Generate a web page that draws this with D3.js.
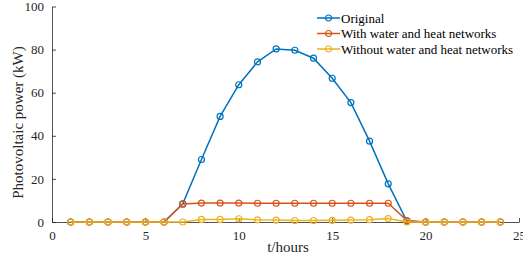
<!DOCTYPE html>
<html>
<head>
<meta charset="utf-8">
<script src="https://cdn.jsdelivr.net/npm/d3@7"></script>
<style>
  body { margin: 0; background: #fff; }
  svg { display: block; }
</style>
</head>
<body>
<svg id="chart" width="523" height="261"></svg>
<script>
const hours = d3.range(1, 25);
const original = [0, 0, 0, 0, 0, 0, 8.4, 29, 49, 63.7, 74.3, 80.3, 79.7, 76, 66.7, 55.4, 37.5, 17.7, 0.3, 0, 0, 0, 0, 0];
const withNet = [0, 0, 0, 0, 0, 0, 8.4, 8.8, 8.8, 8.8, 8.7, 8.7, 8.7, 8.7, 8.7, 8.7, 8.7, 8.7, 0.7, 0, 0, 0, 0, 0];
const withoutNet = [0, 0, 0, 0, 0, 0, 0, 1.2, 1.2, 1.5, 1.0, 0.9, 0.7, 0.7, 0.8, 0.9, 1.1, 1.6, 0, 0, 0, 0, 0, 0];
const xTicks = [0, 5, 10, 15, 20, 25];
const yTicks = [0, 20, 40, 60, 80, 100];

const series = [
  { name: 'Original', values: original, color: '#0072BD' },
  { name: 'With water and heat networks', values: withNet, color: '#D95319' },
  { name: 'Without water and heat networks', values: withoutNet, color: '#EDB120' }
];

const serif = "'Liberation Serif', 'Times New Roman', serif";
const margin = { left: 52, right: 4, top: 6.5, bottom: 39 };
const width = 523, height = 261;
const svg = d3.select('#chart');

const x = d3.scaleLinear().domain([0, 25]).range([margin.left, width - margin.right]);
const y = d3.scaleLinear().domain([0, 100]).range([height - margin.bottom, margin.top]);

// axes (ticks pointing inward, MATLAB style)
const xAxis = svg.append('g')
  .attr('transform', `translate(0,${y(0)})`)
  .call(d3.axisBottom(x).tickValues(xTicks).tickSizeInner(-4).tickSizeOuter(0).tickPadding(9));
const yAxis = svg.append('g')
  .attr('transform', `translate(${x(0)},0)`)
  .call(d3.axisLeft(y).tickValues(yTicks).tickSizeInner(-4).tickSizeOuter(0).tickPadding(8));

[xAxis, yAxis].forEach(a => {
  a.attr('font-family', serif).attr('font-size', 13);
  a.select('.domain').attr('stroke', '#262626').attr('stroke-width', 0.8);
  a.selectAll('.tick line').attr('stroke', '#262626').attr('stroke-width', 0.8);
  a.selectAll('.tick text').attr('fill', '#262626')
    .style('font-family', serif).style('font-size', '13px');
});

// lines + markers
const line = d3.line().x((d, i) => x(hours[i])).y(d => y(d));
series.forEach(s => {
  svg.append('path')
    .datum(s.values)
    .attr('fill', 'none')
    .attr('stroke', s.color)
    .attr('stroke-width', 1.5)
    .attr('d', line);
  svg.append('g').selectAll('circle')
    .data(s.values)
    .join('circle')
    .attr('cx', (d, i) => x(hours[i]))
    .attr('cy', d => y(d))
    .attr('r', 3)
    .attr('fill', 'none')
    .attr('stroke', s.color)
    .attr('stroke-width', 1.2);
});

// legend
const legend = svg.append('g').attr('transform', 'translate(317,18)');
series.forEach((s, i) => {
  const g = legend.append('g').attr('transform', `translate(0,${i * 15.5})`);
  g.append('line').attr('x1', 0).attr('x2', 23).attr('stroke', s.color).attr('stroke-width', 1.5);
  g.append('circle').attr('cx', 11.5).attr('r', 3).attr('fill', 'none').attr('stroke', s.color).attr('stroke-width', 1.2);
  g.append('text').attr('x', 24).attr('dy', '0.35em')
    .attr('fill', '#000').style('font-family', serif).style('font-size', '13px').text(s.name);
});

// axis labels
svg.append('text')
  .attr('x', 288)
  .attr('y', 252)
  .attr('text-anchor', 'middle')
  .attr('fill', '#262626')
  .style('font-family', serif)
  .style('font-size', '15px')
  .text('t/hours');

svg.append('text')
  .attr('transform', 'translate(23,122.5) rotate(-90)')
  .attr('text-anchor', 'middle')
  .attr('fill', '#262626')
  .style('font-family', serif)
  .style('font-size', '15px')
  .text('Photovoltaic power (kW)');
</script>
</body>
</html>
